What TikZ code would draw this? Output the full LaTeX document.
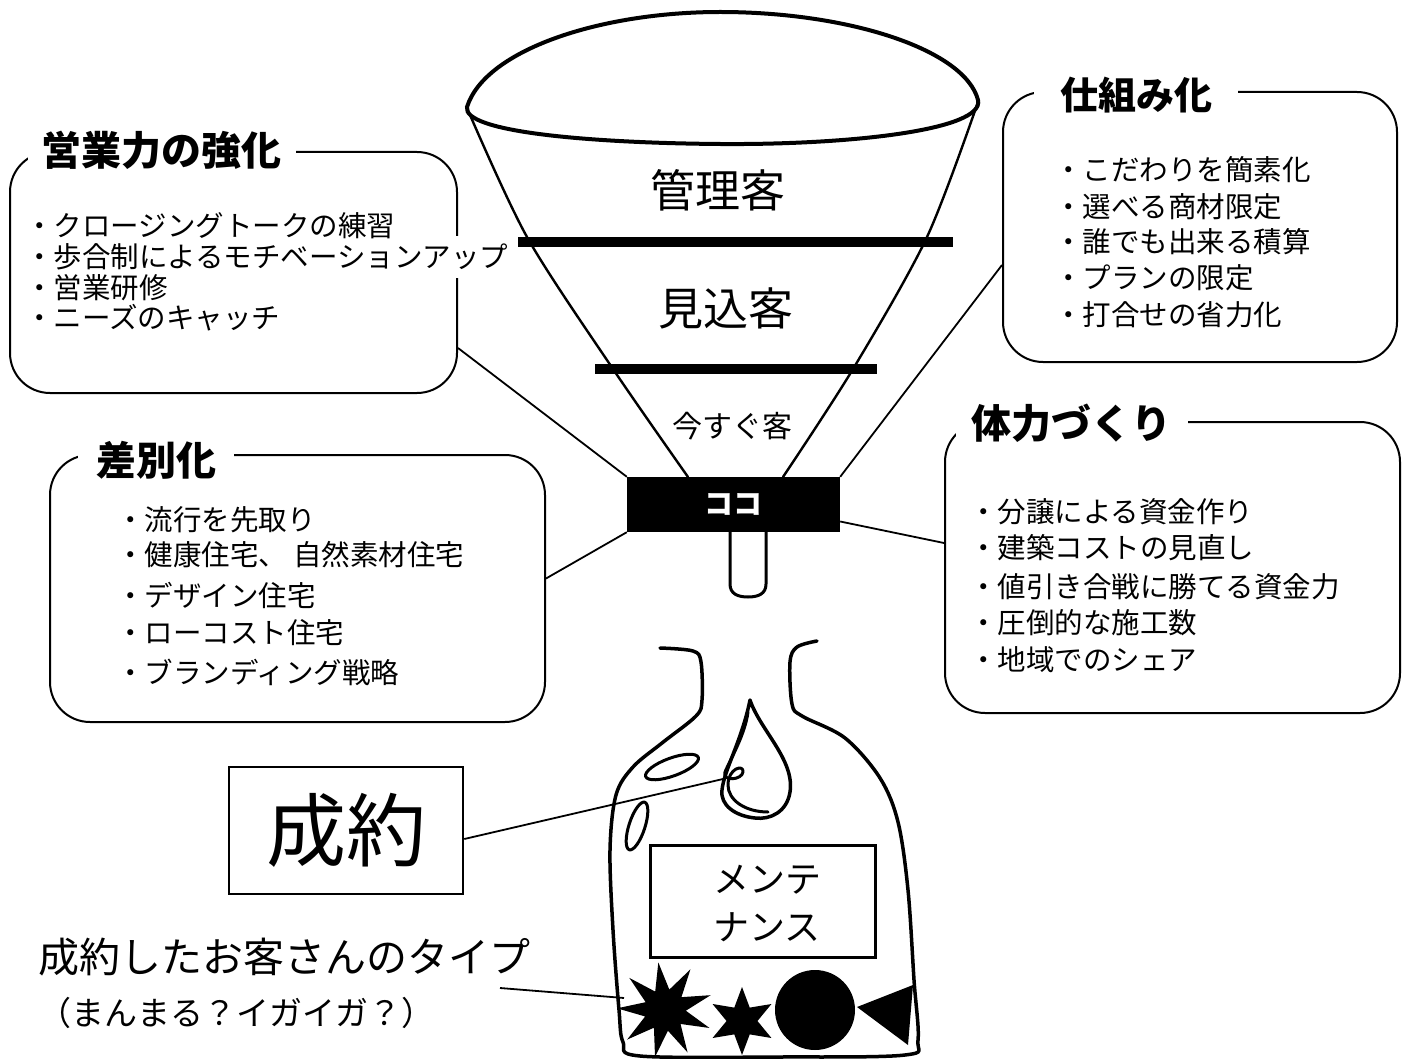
\documentclass[tikz,border=0pt]{standalone}
\usepackage{fontspec}
\setmainfont{Noto Sans CJK JP}
\usetikzlibrary{shapes.geometric}
\begin{document}
\begin{tikzpicture}[x=1pt,y=-1pt,
  every node/.style={inner sep=0pt},
  listbox/.style={draw, line width=2pt, rounded corners=40pt, inner sep=0pt},
  boxtitle/.style={fill=white, inner xsep=14pt, inner ysep=4pt, font=\fontsize{40}{44}\selectfont\bfseries},
  item/.style={anchor=west, font=\fontsize{28.5}{32}\selectfont},
  link/.style={line width=1.8pt},
  ink/.style={line width=3.5pt, line cap=round, line join=round},
  funnelside/.style={line width=2.4pt, line cap=round},
  bar/.style={line width=10pt},
  tag/.style={font=\fontsize{45}{50}\selectfont}
]
\useasboundingbox (0,0) rectangle (1408,1059);
\fill[white] (0,0) rectangle (1408,1059);

% ---------- funnel ----------
\draw[line width=4pt] (467,107) .. controls (485,50) and (600,12) .. (720,12)
  .. controls (850,12) and (965,50) .. (978,100)
  .. controls (985,130) and (850,145) .. (720,144)
  .. controls (590,143) and (462,132) .. cycle;
\draw[funnelside] plot[smooth] coordinates {(467,108) (527,237) (613,369) (688,477)};
\draw[funnelside] plot[smooth] coordinates {(978,102) (927,237) (853,369) (783,477)};
\draw[bar] (518,242) -- (953,242);
\draw[bar] (595,369) -- (877,369);
\node[tag] (kanri) at (718,190) {管理客};
\node[tag] (mikomi) at (726,308) {見込客};
\node[font=\fontsize{30}{32}\selectfont] (imasugu) at (732,426) {今すぐ客};

% neck of the funnel
\node[fill=black, minimum width=213pt, minimum height=55pt, text=white,
      font=\fontsize{29}{30}\selectfont\bfseries] (koko) at (733.5,504.5) {ココ};
\draw[line width=3pt] (730,532) -- (730,584) .. controls (730,594) and (738,597) .. (748,597)
  .. controls (758,597) and (766,594) .. (766,584) -- (766,532);

% ---------- list boxes ----------
\node[listbox, minimum width=447pt, minimum height=241pt] (eigyo) at (233.5,272.5) {};
\node[boxtitle] (eigyoT) at (161.5,150) {営業力の強化};
\node[item, fill=white, inner ysep=8pt] (e2) at (25,257) {・歩合制によるモチベーションアップ};
\node[item] (e1) at (25,226) {・クロージングトークの練習};
\node[item] (e3) at (25,288) {・営業研修};
\node[item] (e4) at (25,318) {・ニーズのキャッチ};

\node[listbox, minimum width=394pt, minimum height=270pt] (shikumi) at (1200,227) {};
\node[boxtitle, inner xsep=26pt, font=\fontsize{38}{42}\selectfont\bfseries] (shikumiT) at (1136,95) {仕組み化};
\node[item] (s1) at (1054,170) {・こだわりを簡素化};
\node[item] (s2) at (1054,207) {・選べる商材限定};
\node[item] (s3) at (1054,242) {・誰でも出来る積算};
\node[item] (s4) at (1054,278) {・プランの限定};
\node[item] (s5) at (1054,315) {・打合せの省力化};

\node[listbox, minimum width=495pt, minimum height=267pt] (sabetsu) at (297.5,588.5) {};
\node[boxtitle, inner xsep=18pt] (sabetsuT) at (156,460) {差別化};
\node[item] (d1) at (116,520) {・流行を先取り};
\node[item] (d2) at (116,555) {・健康住宅、\hspace{6pt}自然素材住宅};
\node[item] (d3) at (116,595) {・デザイン住宅};
\node[item] (d4) at (116,633) {・ローコスト住宅};
\node[item] (d5) at (116,672) {・ブランディング戦略};

\node[listbox, minimum width=455pt, minimum height=291pt] (tairyoku) at (1172.5,567.5) {};
\node[boxtitle, inner xsep=16pt] (tairyokuT) at (1071.5,423) {体力づくり};
\node[item] (t1) at (969,512) {・分譲による資金作り};
\node[item] (t2) at (969,548) {・建築コストの見直し};
\node[item] (t3) at (969,587) {・値引き合戦に勝てる資金力};
\node[item] (t4) at (969,623) {・圧倒的な施工数};
\node[item] (t5) at (969,660) {・地域でのシェア};

% connectors to the neck
\draw[link] ([yshift=46pt]eigyo.south east) -- (koko.north west);
\draw[link] ([yshift=10pt]sabetsu.east) -- (koko.south west);
\draw[link] ([yshift=-38pt]shikumi.west) -- (koko.north east);
\draw[link] ([yshift=24.5pt]tairyoku.west) -- ([yshift=-17pt]koko.east);

% ---------- bottle ----------
\draw[ink] plot[smooth, tension=0.55] coordinates {(660,648) (693,651) (701,662) (702,700) (696,716)
  (662,743) (633,767) (616,795) (610,850) (613,930) (619,1010) (623,1042) (640,1056) (780,1057)
  (905,1055) (918,1040) (914,980) (908,890) (898,822) (880,778) (845,738) (802,716) (792,704)
  (790,662) (797,647) (817,641)};
% reflections on the glass
\draw[ink, line width=3pt] (672,767) ellipse [x radius=28, y radius=9, rotate=20];
\draw[ink, line width=3pt] (637,826) ellipse [x radius=25, y radius=8, rotate=72];
% falling drop
\draw[ink] (750,700) .. controls (760,730) and (795,760) .. (790,792)
  .. controls (787,812) and (770,820) .. (755,818)
  .. controls (735,816) and (720,805) .. (722,790)
  .. controls (724,770) and (742,740) .. cycle;
\draw[ink, line width=3pt] (748,712) .. controls (745,735) and (730,760) .. (725,772)
  .. controls (722,782) and (742,780) .. (743,772)
  .. controls (744,764) and (728,768) .. (728,785)
  .. controls (728,800) and (745,812) .. (768,812);
\coordinate (curl) at (723,779);

% maintenance label
\node[draw, line width=3pt, minimum width=225pt, minimum height=112pt] (maint) at (763,901) {};
\node[anchor=west, font=\fontsize{36}{40}\selectfont] (maint1) at (713,880) {メンテ};
\node[anchor=west, font=\fontsize{36}{40}\selectfont] (maint2) at (713,927) {ナンス};

% customer types
\node[star, star points=9, star point ratio=2.3, fill, minimum size=96pt, rotate=8] (spiky) at (665,1010) {};
\node[star, star points=6, star point ratio=2.2, fill, minimum size=68pt] (smallstar) at (742,1021) {};
\node[circle, fill, minimum size=80pt] (round) at (815,1010) {};
\fill (857,1007) -- (913,985) -- (908,1045) -- cycle;
\coordinate (starhit) at (624,998);

% ---------- contract ----------
\node[draw, line width=2.5pt, minimum width=234pt, minimum height=127pt,
      font=\fontsize{80}{84}\selectfont] (seiyaku) at (346,830.5) {成約};
\draw[link] ([yshift=-8.5pt]seiyaku.east) -- (curl);

\node[anchor=west, font=\fontsize{41}{44}\selectfont] (types) at (38,957) {成約したお客さんのタイプ};
\node[anchor=west, font=\fontsize{33}{36}\selectfont] (types2) at (38,1013) {（まんまる？イガイガ？）};
\coordinate (typeend) at (500,988);
\draw[link] (typeend) -- (starhit);
\end{tikzpicture}
\end{document}
